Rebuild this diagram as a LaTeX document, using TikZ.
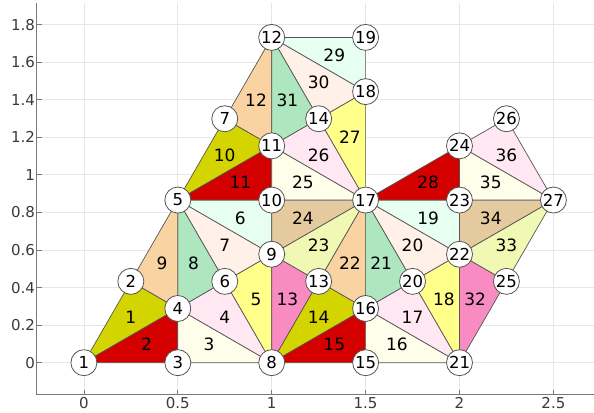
\documentclass[tikz,border=0pt]{standalone}
\usepackage{fontspec}
\setmainfont{DejaVu Sans}
\usetikzlibrary{calc}
\definecolor{cOl}{HTML}{D4D400}
\definecolor{cRd}{HTML}{D40000}
\definecolor{cIv}{HTML}{FEFEEA}
\definecolor{cPk}{HTML}{FFE8F2}
\definecolor{cYe}{HTML}{FFFF8A}
\definecolor{cMi}{HTML}{E6FFF0}
\definecolor{cPe}{HTML}{FFF0E8}
\definecolor{cGr}{HTML}{AEE6C0}
\definecolor{cOr}{HTML}{FAD3A2}
\definecolor{cMa}{HTML}{F88CC2}
\definecolor{cLi}{HTML}{F0F8B4}
\definecolor{cTa}{HTML}{E4CA9E}
\definecolor{cEdge}{HTML}{555555}
\definecolor{cAxis}{HTML}{7A7A7A}
\definecolor{cGrid}{HTML}{E6E6E6}
\definecolor{cTxt}{HTML}{3A3A3A}
\begin{document}
\begin{tikzpicture}[x=187.8pt,y=187.8pt,
  gridline/.style={draw=cGrid,line width=0.8pt},
  axisline/.style={draw=cAxis,line width=1pt},
  tickmark/.style={draw=cAxis,line width=0.8pt},
  ticklbl/.style={text=cTxt,font=\fontsize{15}{15}\selectfont,inner sep=0pt},
  tri/.style={draw=cEdge,line width=0.7pt,line join=round},
  vtx/.style={circle,draw=cEdge,fill=white,line width=0.8pt,minimum size=26pt,inner sep=0pt,font=\fontsize{16.5}{16.5}\selectfont},
  lbl/.style={inner sep=0pt,font=\fontsize{17}{17}\selectfont,text=black}]
\useasboundingbox (-0.4468,-0.2678) rectangle (2.7162,1.9313);
% grid
\foreach \x in {0,0.5,1,1.5,2,2.5} \draw[gridline] (\x,-0.172) -- (\x,1.915);
\foreach \y in {0,0.2,0.4,0.6,0.8,1,1.2,1.4,1.6,1.8} \draw[gridline] (-0.25,\y) -- (2.7162,\y);
% axes
\draw[axisline] (-0.25,1.915) -- (-0.25,-0.172) -- (2.7162,-0.172);
\foreach \x/\t in {0/0,0.5/0.5,1/1,1.5/1.5,2/2,2.5/2.5} {
  \draw[tickmark] (\x,-0.172) -- (\x,-0.145);
  \node[ticklbl,anchor=north] (xt\t) at (\x,-0.182) {\t};
}
\foreach \y/\t in {0/0,0.2/0.2,0.4/0.4,0.6/0.6,0.8/0.8,1/1,1.2/1.2,1.4/1.4,1.6/1.6,1.8/1.8} {
  \draw[tickmark] (-0.25,\y) -- (-0.223,\y);
  \node[ticklbl,anchor=east] (yt\t) at (-0.26,\y) {\t};
}
% points
\coordinate (p1) at (0,0);
\coordinate (p2) at (0.25,0.4330);
\coordinate (p3) at (0.5,0);
\coordinate (p4) at (0.5,0.2887);
\coordinate (p5) at (0.5,0.8660);
\coordinate (p6) at (0.75,0.4330);
\coordinate (p7) at (0.75,1.2990);
\coordinate (p8) at (1,0);
\coordinate (p9) at (1,0.5774);
\coordinate (p10) at (1,0.8660);
\coordinate (p11) at (1,1.1547);
\coordinate (p12) at (1,1.7321);
\coordinate (p13) at (1.25,0.4330);
\coordinate (p14) at (1.25,1.2990);
\coordinate (p15) at (1.5,0);
\coordinate (p16) at (1.5,0.2887);
\coordinate (p17) at (1.5,0.8660);
\coordinate (p18) at (1.5,1.4434);
\coordinate (p19) at (1.5,1.7321);
\coordinate (p20) at (1.75,0.4330);
\coordinate (p21) at (2,0);
\coordinate (p22) at (2,0.5774);
\coordinate (p23) at (2,0.8660);
\coordinate (p24) at (2,1.1547);
\coordinate (p25) at (2.25,0.4330);
\coordinate (p26) at (2.25,1.2990);
\coordinate (p27) at (2.5,0.8660);
% triangles
\foreach \n/\a/\b/\c/\col in {
 1/1/2/4/cOl, 2/1/4/3/cRd, 3/3/4/8/cIv, 4/4/6/8/cPk, 5/6/9/8/cYe, 6/5/10/9/cMi,
 7/5/9/6/cPe, 8/5/6/4/cGr, 9/2/5/4/cOr, 10/5/7/11/cOl, 11/5/11/10/cRd, 12/7/12/11/cOr,
 13/8/9/13/cMa, 14/8/13/16/cOl, 15/8/16/15/cRd, 16/15/16/21/cIv, 17/16/20/21/cPk, 18/20/22/21/cYe,
 19/17/23/22/cMi, 20/17/22/20/cPe, 21/17/20/16/cGr, 22/13/17/16/cOr, 23/9/17/13/cLi, 24/9/10/17/cTa,
 25/10/11/17/cIv, 26/11/14/17/cPk, 27/14/18/17/cYe, 28/17/24/23/cRd, 29/12/19/18/cMi, 30/12/18/14/cPe,
 31/12/14/11/cGr, 32/21/22/25/cMa, 33/22/27/25/cLi, 34/22/23/27/cTa, 35/23/24/27/cIv, 36/24/26/27/cPk} {
  \draw[tri,fill=\col] (p\a) -- (p\b) -- (p\c) -- cycle;
  \node[lbl] (t\n) at ($1/3*(p\a)+1/3*(p\b)+1/3*(p\c)$) {\n};
}
% vertices
\foreach \i in {1,...,27} \node[vtx] (n\i) at (p\i) {\i};
\end{tikzpicture}
\end{document}
